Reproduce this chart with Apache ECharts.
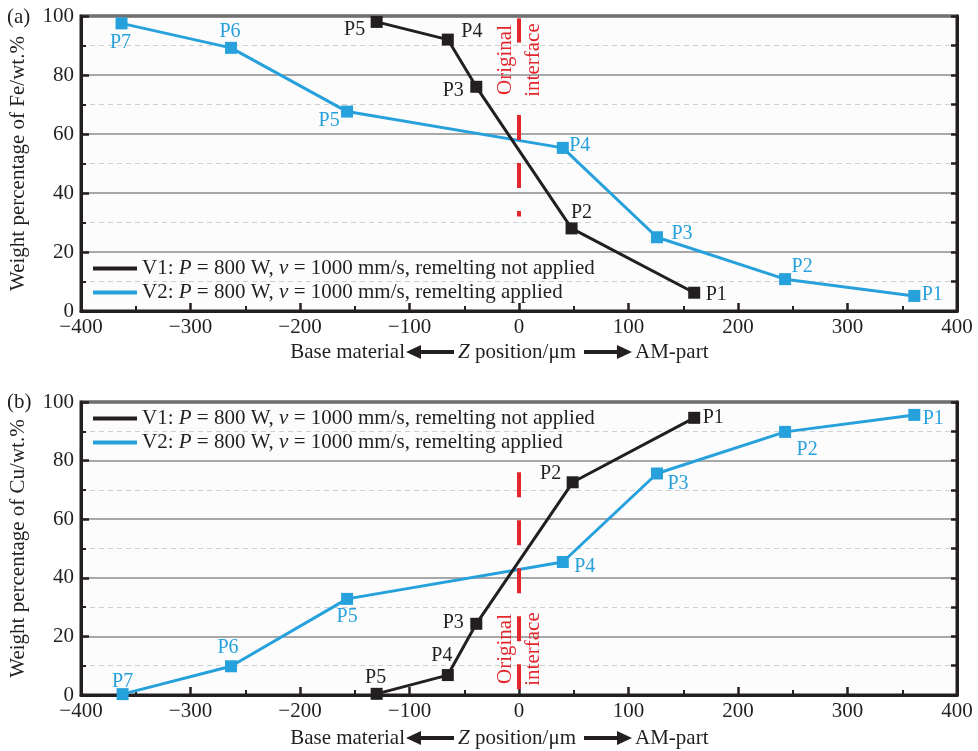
<!DOCTYPE html>
<html>
<head>
<meta charset="utf-8">
<script src="https://cdn.jsdelivr.net/npm/echarts@6/dist/echarts.min.js"></script>
<style>
  html, body { margin: 0; padding: 0; background: #fff; }
  #chart { width: 978px; height: 751px; }
</style>
</head>
<body>
<div id="chart"></div>
<script>
// data: Z position (µm) and weight percentage
const pointsV1 = ['P5', 'P4', 'P3', 'P2', 'P1'];
const pointsV2 = ['P7', 'P6', 'P5', 'P4', 'P3', 'P2', 'P1'];

const zFeV1 = [-130, -65, -39, 48, 160];
const feV1 = [98, 92, 76, 28, 6.2];
const zFeV2 = [-363, -263, -157, 40, 126, 243, 361];
const feV2 = [97.5, 89.2, 67.6, 55.3, 25, 10.8, 5.1];

const zCuV1 = [-130, -65, -39, 49, 160];
const cuV1 = [0.4, 6.8, 24.3, 72.6, 94.6];
const zCuV2 = [-362, -263, -157, 40, 126, 243, 361];
const cuV2 = [0.3, 9.8, 32.8, 45.4, 75.6, 89.8, 95.6];

const xTicks = [-400, -300, -200, -100, 0, 100, 200, 300, 400];
const yTicks = [0, 20, 40, 60, 80, 100];

// original interface marker (dashed red line), in data units
const ifaceFe = [[99.2, 91], [66.4, 32]];
const ifaceCu = [[76, 0]];

const legendText = {
  V1: 'V1: {i|P} = 800 W, {i|v} = 1000 mm/s, remelting not applied',
  V2: 'V2: {i|P} = 800 W, {i|v} = 1000 mm/s, remelting applied'
};

const FONT = '"Liberation Serif", "Times New Roman", serif';
const FS = 21;
const BLACK = '#231f20';
const BLUE = '#27a1dc';
const RED = '#e3262c';
const SYM = 12;

// label offsets (px) of the point names from their squares
const offFeV1 = [[-22, 8], [24, -8], [-23, 4], [10, -16], [22, 2]];
const offFeV2 = [[-1, 19], [-1, -16], [-18, 9], [17, -2], [25, -4], [17, -12], [18, -1]];
const offCuV1 = [[-1, -16], [-6, -19], [-23, -1], [-22, -9], [19, 0]];
const offCuV2 = [[0, -12], [-3, -19], [0, 18], [22, 5], [21, 10], [22, 18], [19, 4]];

function pts(xs, ys, names, offs) {
  return xs.map((x, i) => ({
    value: [x, ys[i]],
    name: names[i],
    label: { position: [SYM / 2 + offs[i][0], SYM / 2 + offs[i][1]] }
  }));
}

function line(name, color, idx, data, iface) {
  const s = {
    name: name,
    type: 'line',
    xAxisIndex: idx,
    yAxisIndex: idx * 2,
    data: data,
    symbol: 'rect',
    symbolSize: SYM,
    showAllSymbol: true,
    lineStyle: { color: color, width: 3 },
    itemStyle: { color: color },
    z: name === 'V1' ? 4 : 3,
    label: {
      show: true,
      formatter: p => p.name,
      color: color,
      fontFamily: FONT,
      fontSize: 20,
      align: 'center',
      verticalAlign: 'middle'
    },
    emphasis: { disabled: true },
    animation: false
  };
  if (iface) {
    s.markLine = {
      symbol: 'none',
      silent: true,
      label: { show: false },
      lineStyle: { color: RED, width: 4, type: [25, 23] },
      data: iface.map(seg => [{ coord: [0, seg[0]] }, { coord: [0, seg[1]] }])
    };
  }
  return s;
}

const grids = [
  { left: 80, top: 16, width: 877, height: 295 },
  { left: 80, top: 402, width: 877, height: 293 }
];

function xAxis(idx) {
  return {
    type: 'value', gridIndex: idx, min: -400, max: 400, interval: 100,
    axisLine: { show: true, onZero: false, lineStyle: { color: BLACK, width: 3 } },
    axisTick: { show: true, inside: true, length: 8, lineStyle: { color: BLACK, width: 2.5 } },
    minorTick: { show: true, splitNumber: 2, length: 5, lineStyle: { color: BLACK, width: 2 } },
    axisLabel: {
      color: BLACK, fontFamily: FONT, fontSize: FS, margin: 6,
      formatter: v => String(v).replace('-', '\u2212')
    },
    splitLine: { show: false }
  };
}

function yAxis(idx, name) {
  return {
    type: 'value', gridIndex: idx, min: 0, max: 100, interval: 20,
    name: name, nameLocation: 'middle', nameGap: 52,
    nameTextStyle: { color: BLACK, fontFamily: FONT, fontSize: FS },
    axisLine: { show: true, onZero: false, lineStyle: { color: BLACK, width: 3 } },
    axisTick: { show: true, inside: true, length: 8, lineStyle: { color: BLACK, width: 2.5 } },
    minorTick: { show: true, splitNumber: 2, length: 5, lineStyle: { color: BLACK, width: 2 } },
    axisLabel: { color: BLACK, fontFamily: FONT, fontSize: FS, margin: 7 },
    splitLine: { show: true, lineStyle: { color: '#8c8c8c', width: 1.5 } },
    minorSplitLine: { show: true, lineStyle: { color: '#cfcfcf', width: 1, type: [5, 4] } }
  };
}

function yRight(idx) {
  return {
    type: 'value', gridIndex: idx, min: 0, max: 100, interval: 10, position: 'right',
    axisLine: { show: true, onZero: false, lineStyle: { color: BLACK, width: 3 } },
    axisTick: { show: true, inside: true, length: 6, lineStyle: { color: BLACK, width: 2.5 } },
    axisLabel: { show: false },
    splitLine: { show: false }
  };
}

function legend(top) {
  return {
    orient: 'vertical', left: 88, top: top, itemGap: 3,
    icon: 'rect', itemWidth: 44, itemHeight: 4,
    data: ['V1', 'V2'],
    formatter: n => legendText[n],
    selectedMode: false,
    textStyle: {
      color: BLACK, fontFamily: FONT, fontSize: FS,
      rich: { i: { fontStyle: 'italic', fontFamily: FONT, fontSize: FS, color: BLACK } }
    }
  };
}

// "Base material <-- Z position/um --> AM-part" under each x axis
function xName(y) {
  const font = FS + 'px ' + FONT;
  return [
    { type: 'text', style: { x: 405, y: y, text: 'Base material', fill: BLACK, font: font, align: 'right', verticalAlign: 'middle' } },
    { type: 'polygon', shape: { points: [[406, y], [421, y - 7], [421, y + 7]] }, style: { fill: BLACK } },
    { type: 'rect', shape: { x: 419, y: y - 2, width: 35, height: 4 }, style: { fill: BLACK } },
    {
      type: 'text',
      style: {
        x: 458, y: y, align: 'left', verticalAlign: 'middle',
        text: '{i|Z} position/\u03bcm', fill: BLACK, font: font,
        rich: { i: { fontStyle: 'italic', fontFamily: FONT, fontSize: FS, fill: BLACK } }
      }
    },
    { type: 'rect', shape: { x: 584, y: y - 2, width: 34, height: 4 }, style: { fill: BLACK } },
    { type: 'polygon', shape: { points: [[632, y], [617, y - 7], [617, y + 7]] }, style: { fill: BLACK } },
    { type: 'text', style: { x: 635, y: y, text: 'AM-part', fill: BLACK, font: font, align: 'left', verticalAlign: 'middle' } }
  ];
}

function ifaceText(cx, cy) {
  return {
    type: 'text', x: cx, y: cy, rotation: Math.PI / 2, z: 10,
    style: {
      text: 'Original\ninterface', fill: RED, font: FS + 'px ' + FONT,
      align: 'center', verticalAlign: 'middle', lineHeight: 28
    }
  };
}

const chart = echarts.init(document.getElementById('chart'));
chart.setOption({
  backgroundColor: '#fff',
  animation: false,
  grid: grids.map(g => Object.assign({ show: true, borderColor: BLACK, borderWidth: 3, backgroundColor: '#fcfcfc' }, g)),
  xAxis: [xAxis(0), xAxis(1)],
  yAxis: [
    yAxis(0, 'Weight percentage of Fe/wt.%'), yRight(0),
    yAxis(1, 'Weight percentage of Cu/wt.%'), yRight(1)
  ],
  legend: [legend(253), legend(403)],
  series: [
    line('V1', BLACK, 0, pts(zFeV1, feV1, pointsV1, offFeV1), ifaceFe),
    line('V2', BLUE, 0, pts(zFeV2, feV2, pointsV2, offFeV2)),
    line('V1', BLACK, 1, pts(zCuV1, cuV1, pointsV1, offCuV1), ifaceCu),
    line('V2', BLUE, 1, pts(zCuV2, cuV2, pointsV2, offCuV2))
  ],
  graphic: [
    { type: 'text', style: { x: 7, y: 17, text: '(a)', fill: BLACK, font: FS + 'px ' + FONT, verticalAlign: 'middle' } },
    { type: 'text', style: { x: 7, y: 402, text: '(b)', fill: BLACK, font: FS + 'px ' + FONT, verticalAlign: 'middle' } },
    ifaceText(519, 60),
    ifaceText(519, 649)
  ].concat(xName(352), xName(738))
});
</script>
</body>
</html>
